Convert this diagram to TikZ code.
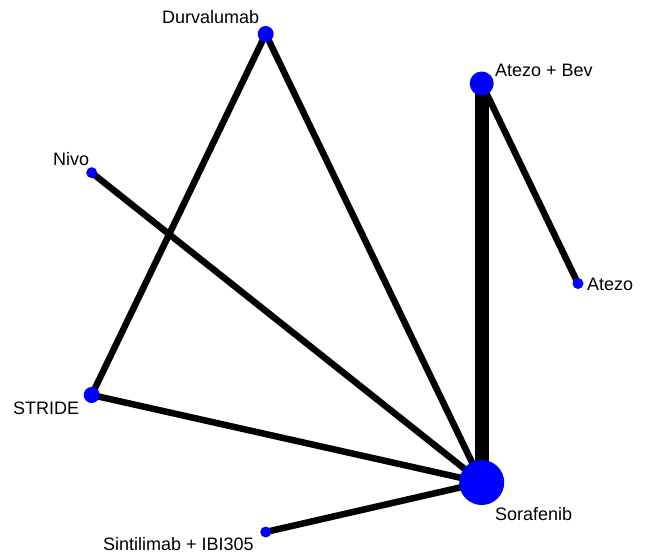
\documentclass[tikz,border=0pt]{standalone}
\usepackage{fontspec}
\setmainfont{Liberation Sans}
\begin{document}
\begin{tikzpicture}[x=1pt,y=-1pt,
  trt/.style={circle,fill=netblue,draw=none,inner sep=0pt,minimum size=#1},
  lbl/.style={inner sep=0pt,anchor=base west,font=\fontsize{18}{20}\selectfont},
  edge/.style={line width=6.5pt,black},
  thickedge/.style={line width=14pt,black}]
\definecolor{netblue}{RGB}{0,0,255}
\useasboundingbox (0,0) rectangle (648,554);
% nodes (coordinates)
\coordinate (durv) at (265.7,34);
\coordinate (ab) at (481.7,83.5);
\coordinate (nivo) at (91.7,172.7);
\coordinate (atezo) at (578,283.5);
\coordinate (stride) at (91.7,395);
\coordinate (sora) at (481.7,482.5);
\coordinate (sint) at (265.7,532);
% edges
\draw[edge] (durv) -- (stride);
\draw[edge] (durv) -- (sora);
\draw[edge] (nivo) -- (sora);
\draw[edge] (stride) -- (sora);
\draw[edge] (sint) -- (sora);
\draw[edge] (ab) -- (atezo);
\draw[thickedge] (ab) -- (sora);
% node circles
\node[trt=16pt] (durvN) at (durv) {};
\node[trt=24pt] (abN) at (ab) {};
\node[trt=11pt] (nivoN) at (nivo) {};
\node[trt=11pt] (atezoN) at (atezo) {};
\node[trt=16pt] (strideN) at (stride) {};
\node[trt=45pt] (soraN) at (sora) {};
\node[trt=11pt] (sintN) at (sint) {};
% labels
\node[lbl] (durvL) at (162,23.3) {Durvalumab};
\node[lbl] (abL) at (495,76) {Atezo + Bev};
\node[lbl] (nivoL) at (53,165) {Nivo};
\node[lbl] (atezoL) at (587,290) {Atezo};
\node[lbl] (strideL) at (13,414) {STRIDE};
\node[lbl] (soraL) at (495,520) {Sorafenib};
\node[lbl] (sintL) at (103,550) {Sintilimab + IBI305};
\end{tikzpicture}
\end{document}
